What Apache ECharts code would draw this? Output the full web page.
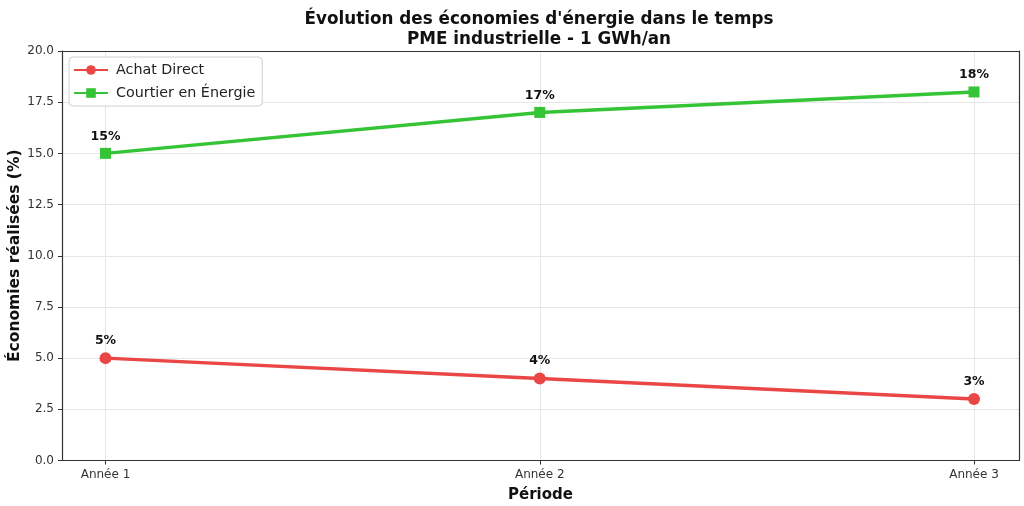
<!DOCTYPE html>
<html>
<head>
<meta charset="utf-8">
<script src="https://cdn.jsdelivr.net/npm/echarts@6/dist/echarts.min.js"></script>
<style>html,body{margin:0;padding:0;background:#fff}#c{width:1024px;height:506px}</style>
</head>
<body>
<div id="c"></div>
<script>
const categories = ['Année 1', 'Année 2', 'Année 3'];
const achatDirect = [5, 4, 3];
const courtier = [15, 17, 18];
const yTicks = [0, 2.5, 5, 7.5, 10, 12.5, 15, 17.5, 20];

const FONT = 'DejaVu Sans';
const chart = echarts.init(document.getElementById('c'), null, {renderer: 'canvas'});
const fmt = p => p.value + '%';
chart.setOption({
  backgroundColor: '#fff',
  animation: false,
  textStyle: {fontFamily: FONT},
  title: {
    text: 'Évolution des économies d\'énergie dans le temps\nPME industrielle - 1 GWh/an',
    left: 534, textAlign: 'center', top: 4,
    textStyle: {fontFamily: FONT, fontSize: 16.8, fontWeight: 'bold', color: '#111', lineHeight: 20.5, align: 'center'}
  },
  legend: {
    orient: 'vertical', left: 69, top: 57,
    padding: [6, 7, 6, 4], itemGap: 9, itemWidth: 34, itemHeight: 12,
    borderColor: '#d0d0d0', borderWidth: 1, borderRadius: 4, backgroundColor: '#fff',
    textStyle: {fontFamily: FONT, fontSize: 14.3, color: '#222', padding: [0, 0, 0, 3]},
    data: ['Achat Direct', 'Courtier en Énergie']
  },
  grid: [
    {left: 62, right: 5, top: 51, bottom: 45.5, outerBoundsMode: 'none', containLabel: false},
    {left: 105.5, right: 50, top: 51, bottom: 45.5, outerBoundsMode: 'none', containLabel: false}
  ],
  xAxis: [
    {gridIndex: 0, type: 'value', min: 0, max: 1, show: true,
     axisLine: {show: true, onZero: false, lineStyle: {color: '#333', width: 1.2}},
     axisTick: {show: false}, axisLabel: {show: false}, splitLine: {show: false},
     name: 'Période', nameLocation: 'middle', nameGap: 27,
     nameTextStyle: {fontFamily: FONT, fontSize: 15, fontWeight: 'bold', color: '#111'}},
    {gridIndex: 0, type: 'value', min: 0, max: 1, position: 'top',
     axisLine: {show: true, onZero: false, lineStyle: {color: '#333', width: 1.2}},
     axisTick: {show: false}, axisLabel: {show: false}, splitLine: {show: false}},
    {gridIndex: 1, type: 'category', data: categories, boundaryGap: false,
     axisLine: {show: false},
     axisTick: {show: true, length: 4, lineStyle: {color: '#333'}},
     axisLabel: {fontFamily: FONT, fontSize: 12, color: '#333', margin: 8},
     splitLine: {show: true, lineStyle: {color: '#e6e6e6', width: 1}}}
  ],
  yAxis: [
    {gridIndex: 0, type: 'value', min: 0, max: 20, interval: 2.5,
     axisLine: {show: true, onZero: false, lineStyle: {color: '#333', width: 1.2}},
     axisTick: {show: true, length: 4, lineStyle: {color: '#333'}},
     axisLabel: {fontFamily: FONT, fontSize: 12, color: '#333', margin: 8,
                 formatter: v => v.toFixed(1)},
     splitLine: {show: true, lineStyle: {color: '#e6e6e6', width: 1}},
     name: 'Économies réalisées (%)', nameLocation: 'middle', nameGap: 39,
     nameMoveOverlap: false,
     nameTextStyle: {fontFamily: FONT, fontSize: 15.5, fontWeight: 'bold', color: '#111'}},
    {gridIndex: 0, type: 'value', min: 0, max: 20, position: 'right',
     axisLine: {show: true, onZero: false, lineStyle: {color: '#333', width: 1.2}},
     axisTick: {show: false}, axisLabel: {show: false}, splitLine: {show: false}},
    {gridIndex: 1, type: 'value', min: 0, max: 20, show: false, splitLine: {show: false}}
  ],
  series: [
    {name: 'Achat Direct', type: 'line', xAxisIndex: 2, yAxisIndex: 2, data: achatDirect,
     symbol: 'circle', symbolSize: 12, color: '#ea4646',
     lineStyle: {width: 3.5, color: '#ea4646'},
     label: {show: true, position: 'top', distance: 5, formatter: fmt,
             fontFamily: FONT, fontSize: 12.5, fontWeight: 'bold', color: '#111'}},
    {name: 'Courtier en Énergie', type: 'line', xAxisIndex: 2, yAxisIndex: 2, data: courtier,
     symbol: 'rect', symbolSize: 11, color: '#35c435',
     lineStyle: {width: 3.5, color: '#35c435'},
     label: {show: true, position: 'top', distance: 5, formatter: fmt,
             fontFamily: FONT, fontSize: 12.5, fontWeight: 'bold', color: '#111'}}
  ]
});
</script>
</body>
</html>
